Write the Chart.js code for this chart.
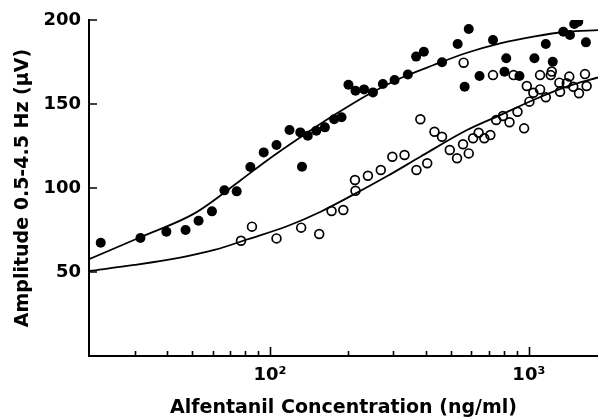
<!DOCTYPE html>
<html>
<head>
<meta charset="utf-8">
<script src="https://cdn.jsdelivr.net/npm/chart.js@4/dist/chart.umd.min.js"></script>
<style>
  html, body { margin: 0; padding: 0; background: #fff; }
  #wrap { width: 598px; height: 418px; }
</style>
</head>
<body>
<div id="wrap"><canvas id="chart" width="598" height="418"></canvas></div>
<script>
// alfentanil concentration (ng/ml) vs amplitude (uV)
var filledConc = [22.2, 31.6, 39.8, 47.2, 53.0, 59.7, 66.7, 74.4, 84.0, 94.6,
    106, 119, 131, 133, 140, 151, 163, 177, 189, 201,
    214, 231, 250, 273, 303, 341, 367, 393, 462, 531,
    586, 565, 645, 727, 818, 805, 920, 1051, 1163, 1237,
    1359, 1442, 1498, 1552, 1662];
var filledAmp = [67.4, 70.2, 74.0, 75.0, 80.5, 86.1, 98.6, 98.0, 112.5, 121.2,
    125.6, 134.5, 133.1, 112.7, 131.1, 134.1, 136.1, 140.9, 142.1, 161.5,
    157.9, 158.7, 156.9, 161.9, 164.3, 167.6, 178.2, 181.1, 174.8, 185.7,
    194.6, 160.3, 166.7, 188.1, 177.2, 169.2, 166.7, 177.2, 185.7, 175.2,
    193.0, 191.1, 197.6, 199.0, 186.7];

var openConc = [77.3, 85.2, 106, 132, 155, 173, 192, 213, 214, 239,
    268, 297, 331, 368, 405, 381, 432, 462, 495, 528,
    557, 586, 609, 640, 673, 710, 560, 727, 748, 794,
    842, 904, 959, 873, 982, 1005, 1041, 1105, 1105, 1163,
    1226, 1215, 1312, 1320, 1433, 1401, 1485, 1562, 1648, 1672];
var openAmp = [68.6, 77.0, 70.0, 76.4, 72.6, 86.3, 86.9, 104.8, 98.4, 107.3,
    110.7, 118.6, 119.6, 110.7, 114.7, 140.9, 133.5, 130.5, 122.6, 117.7,
    126.0, 120.6, 129.6, 132.9, 129.6, 131.5, 174.6, 167.2, 140.5, 142.9,
    139.1, 145.4, 135.5, 167.2, 160.7, 151.4, 156.7, 167.2, 158.7, 154.0,
    169.3, 167.2, 162.7, 157.3, 166.3, 162.3, 160.3, 156.4, 167.8, 160.7];

// fitted curves
var filledFitConc = [20, 31.9, 51.1, 77.3, 98, 132, 177, 238, 319, 429, 577, 775, 1041, 1401, 1850];
var filledFitAmp = [57.6, 71.0, 84.9, 104.8, 116.7, 130.5, 143.4, 155.4, 165.3, 173.2, 180.5, 186.1, 190.1, 193.0, 194.0];
var openFitConc = [20, 30, 45.5, 61, 82.1, 117, 157, 211, 284, 381, 577, 775, 1041, 1401, 1850];
var openFitAmp = [50.6, 54.2, 58.7, 63.1, 69.5, 77.4, 85.9, 96.2, 107.1, 118.6, 134.5, 143.4, 152.4, 160.3, 165.8];

var xTicks = [30, 40, 50, 60, 70, 80, 90, 100, 200, 300, 400, 500, 600, 700, 800, 900, 1000];
var xTickLabels = { 100: '10\u00B2', 1000: '10\u00B3' };
var yTicks = [50, 100, 150, 200];

function pairs(xs, ys) {
    return xs.map(function(x, i) { return { x: x, y: ys[i] }; });
}

// tick marks point into the plot, so draw them ourselves
var inwardTicks = {
    id: 'inwardTicks',
    afterDraw: function(chart) {
        var ctx = chart.ctx, area = chart.chartArea;
        var x = chart.scales.x, y = chart.scales.y;
        ctx.save();
        ctx.strokeStyle = '#000';
        ctx.lineWidth = 1.6;
        ctx.beginPath();
        x.ticks.forEach(function(t) {
            var px = Math.round(x.getPixelForValue(t.value)) + 0.5;
            var len = xTickLabels[t.value] ? 9 : 5;
            ctx.moveTo(px, area.bottom);
            ctx.lineTo(px, area.bottom - len);
        });
        yTicks.forEach(function(v) {
            var py = Math.round(y.getPixelForValue(v));
            ctx.moveTo(area.left, py);
            ctx.lineTo(area.left + 8, py);
        });
        ctx.stroke();
        ctx.restore();
    }
};

var font = 'DejaVu Sans';

new Chart(document.getElementById('chart').getContext('2d'), {
    type: 'scatter',
    data: {
        datasets: [{
            data: pairs(filledFitConc, filledFitAmp),
            showLine: true,
            pointRadius: 0,
            borderColor: '#000',
            borderWidth: 1.8,
            cubicInterpolationMode: 'monotone'
        }, {
            data: pairs(openFitConc, openFitAmp),
            showLine: true,
            pointRadius: 0,
            borderColor: '#000',
            borderWidth: 1.8,
            cubicInterpolationMode: 'monotone'
        }, {
            data: pairs(filledConc, filledAmp),
            pointRadius: 5,
            pointBackgroundColor: '#000',
            pointBorderColor: '#000',
            pointBorderWidth: 0
        }, {
            data: pairs(openConc, openAmp),
            pointRadius: 4.4,
            pointBackgroundColor: 'rgba(0,0,0,0)',
            pointBorderColor: '#000',
            pointBorderWidth: 1.7
        }]
    },
    options: {
        responsive: false,
        animation: false,
        layout: { autoPadding: false, padding: { left: 0, top: 20, right: 0, bottom: 0 } },
        plugins: { legend: { display: false }, tooltip: { enabled: false } },
        scales: {
            x: {
                type: 'logarithmic',
                min: 20,
                max: 1850,
                grid: { display: false, drawTicks: false },
                border: { display: true, color: '#000', width: 2 },
                afterBuildTicks: function(scale) {
                    scale.ticks = xTicks.map(function(v) { return { value: v }; });
                },
                afterFit: function(scale) {
                    scale.height = 62;
                    scale.paddingLeft = 0;
                    scale.paddingRight = 0;
                },
                ticks: {
                    autoSkip: false,
                    maxRotation: 0,
                    padding: 9,
                    color: '#000',
                    font: { family: font, size: 18, weight: 'bold' },
                    callback: function(v) { return xTickLabels[v] || ''; }
                },
                title: {
                    display: true,
                    text: 'Alfentanil Concentration (ng/ml)',
                    color: '#000',
                    padding: 0,
                    font: { family: font, size: 19, weight: 'bold', lineHeight: 1 }
                }
            },
            y: {
                min: 0,
                max: 200,
                grid: { display: false, drawTicks: false },
                border: { display: true, color: '#000', width: 2 },
                afterFit: function(scale) { scale.width = 89; },
                ticks: {
                    stepSize: 50,
                    padding: 8,
                    color: '#000',
                    font: { family: font, size: 18, weight: 'bold' },
                    callback: function(v) { return v === 0 ? '' : v; }
                },
                title: {
                    display: true,
                    text: 'Amplitude 0.5-4.5 Hz (\u00B5V)',
                    color: '#000',
                    padding: { top: 13.5, bottom: 0 },
                    font: { family: font, size: 19, weight: 'bold', lineHeight: 1 }
                }
            }
        }
    },
    plugins: [inwardTicks]
});
</script>
</body>
</html>
